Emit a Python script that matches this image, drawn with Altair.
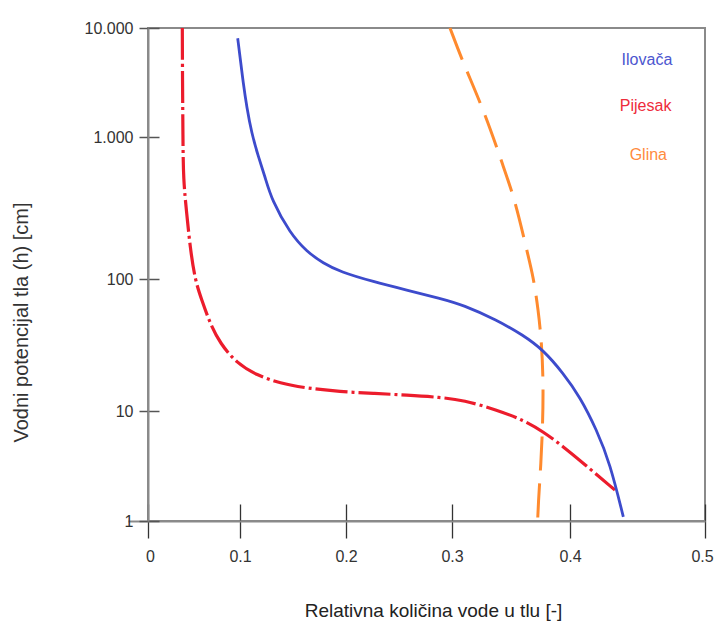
import altair as alt
import pandas as pd

# ---- data (theta = relative water content, h = cm) ----
ilovaca_theta = [0.0975, 0.1000, 0.1031, 0.1063, 0.1110, 0.1173, 0.1236, 0.1299, 0.1472, 0.1629,
                 0.1786, 0.1943, 0.2258, 0.2573, 0.2887, 0.3096, 0.3379, 0.3602, 0.3774, 0.3943,
                 0.4074, 0.4198, 0.4296, 0.4395]
ilovaca_h = [8045, 5458, 3110, 1897, 1081, 726, 525, 360, 210, 156,
             129, 112.6, 95.4, 82.5, 71.4, 63.6, 48.9, 37.6, 29.0, 19.3,
             12.8, 6.72, 3.35, 1.09]

pijesak_theta = [0.0373, 0.0375, 0.0380, 0.0384, 0.0421, 0.0457, 0.0511, 0.0584, 0.0674, 0.0783,
                 0.0964, 0.1158, 0.1377, 0.1629, 0.1943, 0.2258, 0.2573, 0.2887, 0.3096, 0.3379,
                 0.3602, 0.3774, 0.3943, 0.4099, 0.4333]
pijesak_h = [10000, 3334, 1000, 498, 290, 169, 98.3, 69.3, 46.2, 32.6,
             23.0, 18.7, 16.2, 14.9, 14.0, 13.6, 13.2, 12.7, 12.1, 10.2,
             8.28, 6.48, 4.74, 3.35, 1.91]

glina_theta = [0.2981, 0.3096, 0.3280, 0.3435, 0.3534, 0.3633, 0.3689, 0.3731, 0.3760, 0.3774,
               0.3769, 0.3754, 0.3731, 0.3723]
glina_h = [10000, 4745, 1650, 618, 360, 160, 104, 58.3, 32.6, 16.2,
           7.73, 3.35, 1.45, 0.83]

x_ticks = [0, 0.1, 0.2, 0.3, 0.4, 0.5]
y_ticks = [1, 10, 100, 1000, 10000]

legend_labels = ["Ilovača", "Pijesak", "Glina"]
legend_theta = [0.457, 0.456, 0.458]
legend_h = [5080, 1920, 750]
legend_colors = ["#4c56cf", "#ee2b3b", "#ff8b3d"]

FONT = "Liberation Sans, Arial, sans-serif"


def frame(theta, h):
    return pd.DataFrame({"theta": theta, "h": h, "i": list(range(len(theta)))})


x_scale = alt.Scale(domain=x_ticks, range=[0, 92, 198, 304, 422, 557], nice=False, zero=False)
y_scale = alt.Scale(type="log", domain=y_ticks, range=[493, 383, 251, 109, 0], nice=False)

# main axes
x_main = alt.Axis(orient="bottom", values=x_ticks, format=".1~f", tickSize=17, tickColor="#333333",
                  tickWidth=1.3, domainColor="#8a8a8a", domainWidth=2, labelPadding=10,
                  labelOffset={"condition": [{"test": "datum.value == 0.5", "value": -3},
                                             {"test": "datum.value == 0", "value": 2}],
                               "value": 0},
                  labelFont=FONT, labelFontSize=16, labelColor="#333333", labelFlush=False,
                  labelOverlap=False, grid=False,
                  title="Relativna količina vode u tlu [-]", titleFont=FONT, titleFontSize=19,
                  titleFontWeight="normal", titleColor="#222222", titleX=285, titleY=95,
                  titleBaseline="alphabetic")
y_main = alt.Axis(orient="left", values=y_ticks,
                  labelExpr="replace(format(datum.value, ','), ',', '.')",
                  tickSize=9, tickColor="#555555", tickWidth=1.5, domainColor="#8a8a8a",
                  domainWidth=2, labelPadding=6, labelFont=FONT, labelFontSize=16,
                  labelColor="#333333", labelOverlap=False, grid=False,
                  title="Vodni potencijal tla (h) [cm]", titleFont=FONT, titleFontSize=20,
                  titleFontWeight="normal", titleColor="#333333", titleAngle=270,
                  titleX=-121, titleY=294, titleBaseline="alphabetic")
# inner halves of the crossing ticks
x_inner = alt.Axis(orient="bottom", values=x_ticks, offset=-17, tickSize=17, labels=False,
                   domain=False, tickColor="#333333", tickWidth=1.3, grid=False)
y_inner = alt.Axis(orient="left", values=y_ticks, offset=-11, tickSize=11, labels=False,
                   domain=False, tickColor="#555555", tickWidth=1.5, grid=False)
# long tick at h = 1
y_long = alt.Axis(orient="left", values=[1], tickSize=20, labels=False, domain=False,
                  tickColor="#8a8a8a", tickWidth=2, grid=False)

red = alt.Chart(frame(pijesak_theta, pijesak_h)).mark_line(
    color="#ec1c2c", strokeWidth=3.2, strokeDash=[32, 4, 3, 4], interpolate="basis"
).encode(
    x=alt.X("theta:Q", scale=x_scale, axis=x_inner, title=None),
    y=alt.Y("h:Q", scale=y_scale, axis=y_inner, title=None),
    order="i:Q",
)

orange = alt.Chart(frame(glina_theta, glina_h)).mark_line(
    color="#ff8a2e", strokeWidth=3, strokeDash=[34, 13], interpolate="basis"
).encode(
    x=alt.X("theta:Q", scale=x_scale, axis=None),
    y=alt.Y("h:Q", scale=y_scale, axis=y_long, title=None),
    order="i:Q",
)

blue = alt.Chart(frame(ilovaca_theta, ilovaca_h)).mark_line(
    color="#3d4bcc", strokeWidth=2.8, interpolate="basis"
).encode(
    x=alt.X("theta:Q", scale=x_scale, axis=x_main),
    y=alt.Y("h:Q", scale=y_scale, axis=y_main),
    order="i:Q",
)

legend_df = pd.DataFrame({"label": legend_labels, "theta": legend_theta,
                          "h": legend_h, "color": legend_colors})
text = alt.Chart(legend_df).mark_text(
    font=FONT, fontSize=16, align="center", baseline="middle"
).encode(
    x=alt.X("theta:Q", scale=x_scale, axis=None),
    y=alt.Y("h:Q", scale=y_scale, axis=None),
    text="label:N",
    color=alt.Color("color:N", scale=None),
)

chart = alt.layer(red, orange, blue, text).resolve_axis(
    x="independent", y="independent"
).properties(
    width=557, height=493,
    autosize=alt.AutoSizeParams(type="none"),
    padding={"left": 140, "top": 20, "right": 10, "bottom": 105},
).configure_view(stroke="#8a8a8a", strokeWidth=2)

chart.save("out.html", embed_options={"renderer": "svg", "actions": False})
